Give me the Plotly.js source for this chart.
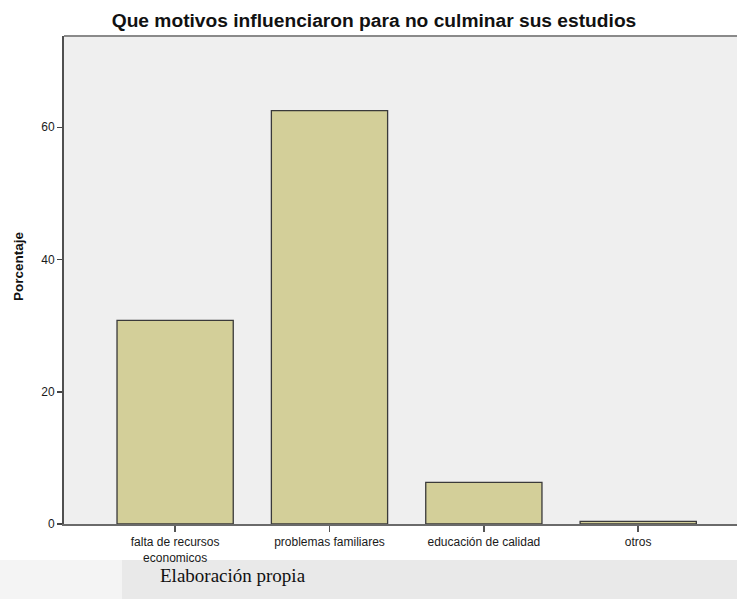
<!DOCTYPE html>
<html>
<head>
<meta charset="utf-8">
<script src="https://cdn.plot.ly/plotly-3.0.1.min.js"></script>
<style>html,body{margin:0;padding:0;background:#fff;}#chart{width:737px;height:599px;}</style>
</head>
<body>
<div id="chart"></div>
<script>
const categories = ["falta de recursos<br>economicos", "problemas familiares", "educación de calidad", "otros"];
const percentages = [30.8, 62.5, 6.3, 0.4];
const yTickValues = [0, 20, 40, 60];
const chartTitle = "Que motivos influenciaron para no culminar sus estudios";
const yTitle = "Porcentaje";
const sourceNote = "Elaboración propia";

const W = 737, H = 599, L = 64, R = 0, T = 36, B = 75;
const ph = H - T - B, pw = W - L - R;
const py = Y => (H - B - Y) / ph;
const px = X => (X - L) / pw;

const trace = {
  type: 'bar',
  x: [0, 1, 2, 3],
  y: percentages,
  width: 0.753,
  marker: {color: '#d3cf99', line: {color: '#3a3a3a', width: 1.3}},
  hoverinfo: 'none'
};

const layout = {
  width: W, height: H,
  margin: {l: L, r: R, t: T, b: B, pad: 0},
  paper_bgcolor: '#ffffff',
  plot_bgcolor: '#efefef',
  showlegend: false,
  title: {text: chartTitle, font: {family: 'Liberation Sans, Arial, sans-serif', size: 19.2, color: '#111', weight: 'bold'},
          x: px(374), xref: 'paper', xanchor: 'center', y: 1 - 20 / H, yanchor: 'middle'},
  xaxis: {
    range: [-0.72, 3.64],
    tickvals: [0, 1, 2, 3], ticktext: categories,
    ticks: 'outside', ticklen: 6, tickwidth: 1.5, tickcolor: '#555',
    showline: true, linecolor: '#6a6a6a', linewidth: 2,
    showgrid: false, zeroline: false,
    tickfont: {family: 'Liberation Sans, Arial, sans-serif', size: 12, color: '#1a1a1a'},
    fixedrange: true
  },
  yaxis: {
    range: [0, 73.8],
    tickvals: yTickValues,
    ticks: 'outside', ticklen: 5, tickwidth: 1.5, tickcolor: '#444',
    showline: true, linecolor: '#505050', linewidth: 2,
    showgrid: false, zeroline: false,
    tickfont: {family: 'Liberation Sans, Arial, sans-serif', size: 12, color: '#1a1a1a'},
    fixedrange: true
  },
  shapes: [
    {type: 'line', xref: 'paper', yref: 'paper', x0: 0, x1: 1, y0: 1, y1: 1, line: {color: '#8a8a8a', width: 2}},
    {type: 'rect', xref: 'paper', yref: 'paper', x0: px(0), x1: px(122), y0: py(599), y1: py(560), fillcolor: '#f4f4f4', line: {width: 0}, layer: 'below'},
    {type: 'rect', xref: 'paper', yref: 'paper', x0: px(122), x1: px(737), y0: py(599), y1: py(560), fillcolor: '#e9e9e9', line: {width: 0}, layer: 'below'}
  ],
  annotations: [
    {text: '<b>' + yTitle + '</b>', xref: 'paper', yref: 'paper', x: px(18), y: py(266), xanchor: 'center', yanchor: 'middle',
     textangle: -90, showarrow: false, font: {family: 'Liberation Sans, Arial, sans-serif', size: 13.5, color: '#111'}},
    {text: sourceNote, xref: 'paper', yref: 'paper', x: px(158), y: py(575), xanchor: 'left', yanchor: 'middle',
     showarrow: false, font: {family: 'Liberation Serif, Times New Roman, serif', size: 19, color: '#111'}}
  ]
};

Plotly.newPlot('chart', [trace], layout, {displayModeBar: false, staticPlot: true});
</script>
</body>
</html>
